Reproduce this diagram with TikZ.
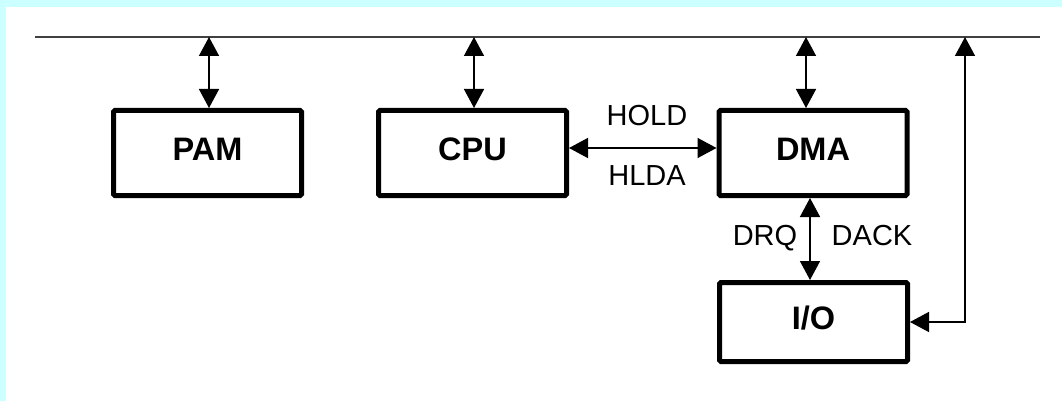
\documentclass[tikz,border=0pt]{standalone}
\usepackage{fontspec}
\setmainfont{Liberation Sans}
\usetikzlibrary{arrows.meta}
\definecolor{bgcyan}{HTML}{CCFFFF}
\begin{document}
\begin{tikzpicture}[x=1pt,y=-1pt,
  box/.style={draw,line width=5pt,rounded corners=1.5pt,minimum width=188pt,minimum height=85pt,inner sep=0pt,font=\fontsize{32.5}{32.5}\selectfont\bfseries,text height=23pt,text depth=8pt},
  lbl/.style={font=\fontsize{29}{29}\selectfont,anchor=base,inner sep=0pt},
  conn/.style={line width=1.5pt,{Triangle[length=19pt,width=20pt]}-{Triangle[length=19pt,width=20pt]}},
  bus/.style={line width=2pt,black!75}]
\useasboundingbox (0,0) rectangle (1062,401);
\fill[bgcyan] (0,0) rectangle (1062,401);
\fill[white] (6,7) rectangle (1062,401);
% bus
\coordinate (busL) at (35,37);
\coordinate (busR) at (1040,37);
\draw[bus] (busL) -- (busR);
% boxes
\node[box] (pam) at (207.5,153) {PAM};
\node[box] (cpu) at (472.5,153) {CPU};
\node[box] (dma) at (813,153) {DMA};
\node[box,minimum height=79pt] (io) at (813.5,322) {I/O};
% bus connectors
\coordinate (bp) at (209,37);
\coordinate (bc) at (474,37);
\coordinate (bd) at (806,37);
\coordinate (rb) at (965,37);
\draw[conn] (bp) -- (bp |- pam.north);
\draw[conn] (bc) -- (bc |- cpu.north);
\draw[conn] (bd) -- (bd |- dma.north);
% CPU - DMA
\coordinate (h) at (0,148);
\draw[conn] (cpu.east |- h) -- (dma.west |- h);
\node[lbl] (hold) at (647,125) {HOLD};
\node[lbl] (hlda) at (647,185) {HLDA};
% DMA - I/O
\coordinate (dq) at (810,0);
\draw[conn] (dma.south -| dq) -- (io.north -| dq);
\node[lbl] (drq) at (765,245) {DRQ};
\node[lbl] (dack) at (872,245) {DACK};
% I/O - bus
\draw[conn] (rb) |- (io.east);
\end{tikzpicture}
\end{document}
